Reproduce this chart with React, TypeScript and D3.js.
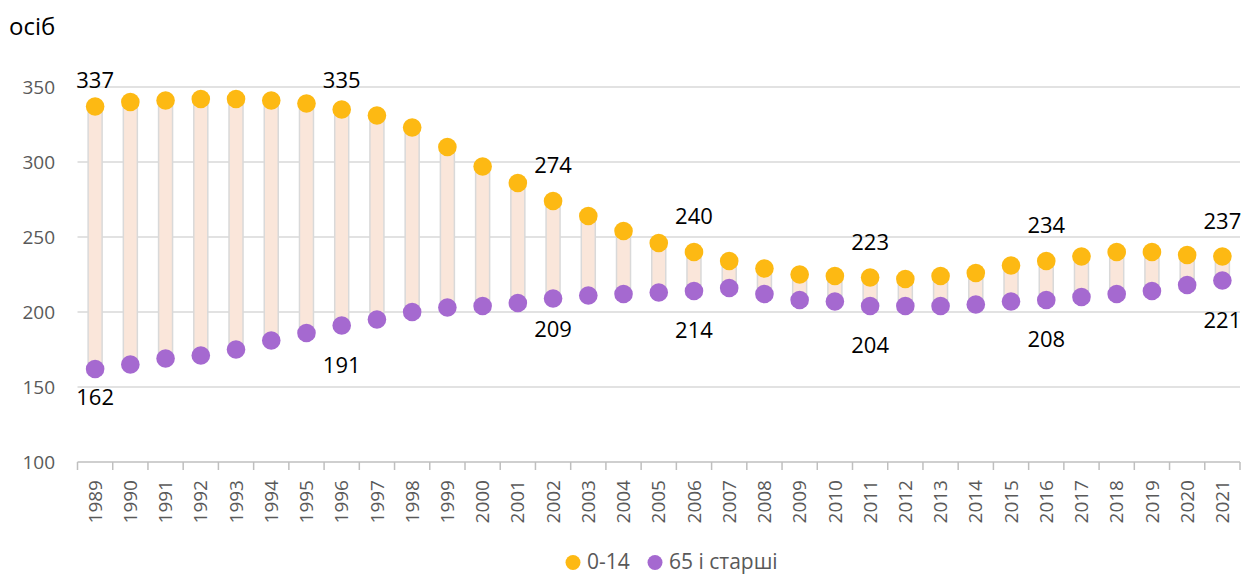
import React from 'react';
import * as d3 from 'd3';

const years = [
    1989, 1990, 1991, 1992, 1993, 1994, 1995, 1996, 1997, 1998, 1999, 2000, 2001, 2002, 2003, 2004, 2005,
    2006, 2007, 2008, 2009, 2010, 2011, 2012, 2013, 2014, 2015, 2016, 2017, 2018, 2019, 2020, 2021,
];
// 0-14
const children = [
    337, 340, 341, 342, 342, 341, 339, 335, 331, 323, 310, 297, 286, 274, 264, 254, 246,
    240, 234, 229, 225, 224, 223, 222, 224, 226, 231, 234, 237, 240, 240, 238, 237,
];
// 65 і старші
const elderly = [
    162, 165, 169, 171, 175, 181, 186, 191, 195, 200, 203, 204, 206, 209, 211, 212, 213,
    214, 216, 212, 208, 207, 204, 204, 204, 205, 207, 208, 210, 212, 214, 218, 221,
];
const labelledYears = [1989, 1996, 2002, 2006, 2011, 2016, 2021];
const yTicks = [100, 150, 200, 250, 300, 350];
const seriesNames = ['0-14', '65 і старші'];

const W = 1246;
const H = 575;
const margin = { top: 87, right: 6, bottom: 113, left: 77.5 };
const ORANGE = '#FDB913';
const PURPLE = '#A569D0';
const GRAY = '#595959';
const FONT = '"Open Sans", sans-serif';

// невеликі ручні зсуви підписів знизу
const lowDy: Record<number, number> = { 1989: 36, 2002: 38 };

const App: React.FC = () => {
    const x = d3
        .scaleBand<number>()
        .domain(years)
        .range([margin.left, W - margin.right])
        .padding(0);
    const y = d3.scaleLinear().domain([100, 350]).range([H - margin.bottom, margin.top]);
    const cx = (yr: number) => (x(yr) ?? 0) + x.bandwidth() / 2;
    const barW = 14;

    return (
        <div style={{ position: 'fixed', left: 0, top: 0 }}>
            <svg width={W} height={H} style={{ display: 'block', fontFamily: FONT }}>
                <rect width={W} height={H} fill="#fff" />
                <text x={9} y={35} fontSize={24} fill="#000">
                    осіб
                </text>

                {/* сітка і вісь Y */}
                {yTicks.map((t) => (
                    <g key={t}>
                        {t !== 100 && (
                            <line
                                x1={margin.left}
                                x2={W - margin.right}
                                y1={y(t)}
                                y2={y(t)}
                                stroke="#D9D9D9"
                                strokeWidth={1.5}
                            />
                        )}
                        <text x={55} y={y(t)} dy="0.35em" textAnchor="end" fontSize={19} fill={GRAY}>
                            {t}
                        </text>
                    </g>
                ))}

                {/* смуги між серіями */}
                {years.map((yr, i) => (
                    <rect
                        key={'b' + yr}
                        x={cx(yr) - barW / 2}
                        y={y(children[i])}
                        width={barW}
                        height={y(elderly[i]) - y(children[i])}
                        fill="#FAE6DA"
                        stroke="#D9D9D9"
                        strokeWidth={1.5}
                    />
                ))}

                {/* вісь X */}
                <line x1={margin.left} x2={W - margin.right} y1={y(100)} y2={y(100)} stroke="#BFBFBF" strokeWidth={1.5} />
                {[...years.map((yr) => x(yr) ?? 0), W - margin.right].map((v, i) => (
                    <line key={'t' + i} x1={v} x2={v} y1={y(100)} y2={y(100) + 8} stroke="#BFBFBF" strokeWidth={1.5} />
                ))}
                {years.map((yr) => (
                    <text
                        key={'xl' + yr}
                        transform={`translate(${cx(yr)},${y(100) + 18}) rotate(-90)`}
                        dy="0.35em"
                        textAnchor="end"
                        fontSize={19}
                        fill={GRAY}
                    >
                        {yr}
                    </text>
                ))}

                {/* точки */}
                {years.map((yr, i) => (
                    <g key={'p' + yr}>
                        <circle cx={cx(yr)} cy={y(elderly[i])} r={9.3} fill={PURPLE} />
                        <circle cx={cx(yr)} cy={y(children[i])} r={9.3} fill={ORANGE} />
                    </g>
                ))}

                {/* підписи даних */}
                {labelledYears.map((yr) => {
                    const i = years.indexOf(yr);
                    const top = Math.max(y(children[i]) - 28, 87.5);
                    const bottom = y(elderly[i]) + (lowDy[yr] ?? 47);
                    return (
                        <g key={'l' + yr} fontSize={22} fill="#000" textAnchor="middle">
                            <text x={cx(yr)} y={top}>
                                {children[i]}
                            </text>
                            <text x={cx(yr)} y={bottom}>
                                {elderly[i]}
                            </text>
                        </g>
                    );
                })}

                {/* легенда */}
                <g fontSize={21} fill={GRAY}>
                    <circle cx={573} cy={562.5} r={7.5} fill={ORANGE} />
                    <text x={587} y={569}>
                        {seriesNames[0]}
                    </text>
                    <circle cx={655} cy={562.5} r={7.5} fill={PURPLE} />
                    <text x={669} y={569}>
                        {seriesNames[1]}
                    </text>
                </g>
            </svg>
        </div>
    );
};

export default App;
